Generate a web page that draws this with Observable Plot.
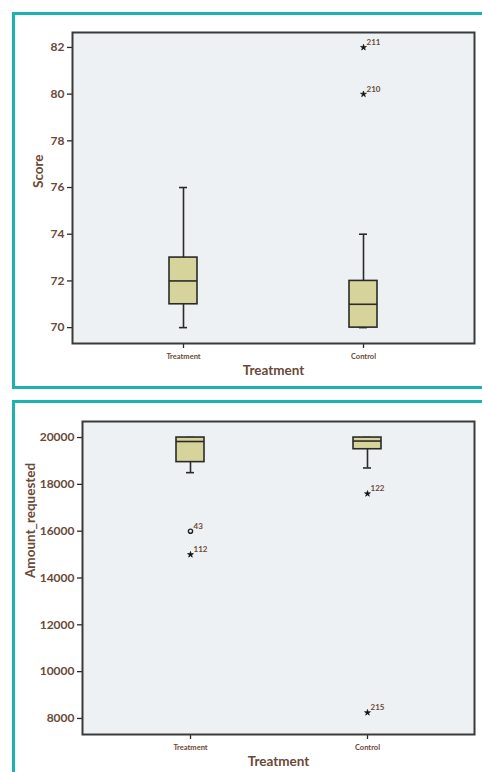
<!DOCTYPE html>
<html>
<head>
<meta charset="utf-8">
<script src="https://cdn.jsdelivr.net/npm/d3@7"></script>
<script src="https://cdn.jsdelivr.net/npm/@observablehq/plot@0.6"></script>
<style>
  html, body { margin: 0; padding: 0; background: #fff; overflow: hidden; }
  body { width: 482px; height: 772px; position: relative; }
  .chart { position: absolute; left: 0; }
  .panel { position: absolute; left: 12px; width: 520px; border: 3px solid #1bb3b0; box-sizing: border-box; pointer-events: none; }
</style>
</head>
<body>
<div id="c1" class="chart" style="top:0px"></div>
<div id="c2" class="chart" style="top:389px"></div>
<div class="panel" style="top:12px;height:377px"></div>
<div class="panel" style="top:400px;height:420px"></div>
<script>
// ---------- Data ----------
const groups = ["Treatment", "Control"];

// Score
const scoreMin = [70, 70];
const scoreQ1  = [71, 70];
const scoreMed = [72, 71];
const scoreQ3  = [73, 72];
const scoreMax = [76, 74];
const scoreTicks = [70, 72, 74, 76, 78, 80, 82];
const scoreOutGroup = ["Control", "Control"];
const scoreOutValue = [82, 80];
const scoreOutId = ["211", "210"];
const scoreOutType = ["extreme", "extreme"];

// Amount requested
const amtMin = [18500, 18700];
const amtQ1  = [18950, 19500];
const amtMed = [19830, 19850];
const amtQ3  = [20000, 20000];
const amtMax = [20000, 20000];
const amtTicks = [8000, 10000, 12000, 14000, 16000, 18000, 20000];
const amtOutGroup = ["Treatment", "Treatment", "Control", "Control"];
const amtOutValue = [16000, 15000, 17600, 8250];
const amtOutId = ["43", "112", "122", "215"];
const amtOutType = ["outlier", "extreme", "extreme", "extreme"];

// ---------- Drawing ----------
const textColor = "#6b4838";
const lineColor = "#2a2a2a";
const boxFill = "#d7d49b";
const font = "Lato, 'Open Sans', sans-serif";

function boxChart({min, q1, med, q3, max, ticks, yDomain, outG, outV, outId, outT, yLabel, yLabelX,
                   height, marginLeft, marginTop, marginBottom, pInner, pOuter}) {
  const rows = groups.map((g, i) => ({g, min: min[i], q1: q1[i], med: med[i], q3: q3[i], max: max[i]}));
  const outs = outG.map((g, i) => ({g, v: outV[i], id: outId[i], t: outT[i]}));
  return Plot.plot({
    width: 482,
    height,
    marginLeft,
    marginRight: 8,
    marginTop,
    marginBottom,
    style: {fontFamily: font, fontWeight: "bold", background: "transparent", overflow: "visible"},
    x: {domain: groups, paddingInner: pInner, paddingOuter: pOuter, axis: null},
    y: {domain: yDomain, axis: null},
    marks: [
      Plot.frame({fill: "#eef1f3"}),
      Plot.ruleX(rows, {x: "g", y1: "min", y2: "max", stroke: lineColor, strokeWidth: 1.6}),
      Plot.tickY(rows, {x: "g", y: "min", stroke: lineColor, strokeWidth: 1.6, insetLeft: 10, insetRight: 10}),
      Plot.tickY(rows, {x: "g", y: "max", stroke: lineColor, strokeWidth: 1.6, insetLeft: 10, insetRight: 10}),
      Plot.barY(rows, {x: "g", y1: "q1", y2: "q3", fill: boxFill, stroke: lineColor, strokeWidth: 1.6}),
      Plot.tickY(rows, {x: "g", y: "med", stroke: lineColor, strokeWidth: 1.6}),
      Plot.dot(outs.filter(d => d.t === "extreme"), {x: "g", y: "v", symbol: "star", r: 1.9, fill: "#111", stroke: "#111", strokeWidth: 0.6}),
      Plot.dot(outs.filter(d => d.t === "outlier"), {x: "g", y: "v", symbol: "circle", r: 2.1, fill: "none", stroke: "#222", strokeWidth: 1.4}),
      Plot.text(outs, {x: "g", y: "v", text: "id", dx: 3, dy: -5, textAnchor: "start", fontSize: 8, fill: textColor, fontWeight: "bold"}),
      Plot.axisY({ticks, tickFormat: d3.format("d"), tickSize: 5, tickPadding: 3, fontSize: 12, fill: textColor, stroke: lineColor, strokeWidth: 1.3, label: null}),
      Plot.axisX({tickSize: 5, tickPadding: 5, fontSize: 7.5, fill: textColor, stroke: lineColor, strokeWidth: 1.3, label: null}),
      Plot.text(["Treatment"], {frameAnchor: "bottom", dy: 31, fontSize: 13.5, fill: textColor, fontWeight: "bold"}),
      Plot.text([yLabel], {frameAnchor: "left", dx: yLabelX - marginLeft, rotate: -90, fontSize: 13.5, fill: textColor, fontWeight: "bold"}),
      Plot.frame({stroke: "#3a3a3a", strokeWidth: 2})
    ]
  });
}

document.getElementById("c1").appendChild(boxChart({
  min: scoreMin, q1: scoreQ1, med: scoreMed, q3: scoreQ3, max: scoreMax,
  ticks: scoreTicks, yDomain: [69.32, 82.64],
  outG: scoreOutGroup, outV: scoreOutValue, outId: scoreOutId, outT: scoreOutType,
  yLabel: "Score", yLabelX: 38, height: 389, marginLeft: 72, marginTop: 32, marginBottom: 46,
  pInner: 0.845, pOuter: 0.533
}));

document.getElementById("c2").appendChild(boxChart({
  min: amtMin, q1: amtQ1, med: amtMed, q3: amtQ3, max: amtMax,
  ticks: amtTicks, yDomain: [7315, 20685],
  outG: amtOutGroup, outV: amtOutValue, outId: amtOutId, outT: amtOutType,
  yLabel: "Amount_requested", yLabelX: 30, height: 383, marginLeft: 82, marginTop: 32, marginBottom: 38,
  pInner: 0.842, pOuter: 0.528
}));
</script>
</body>
</html>
